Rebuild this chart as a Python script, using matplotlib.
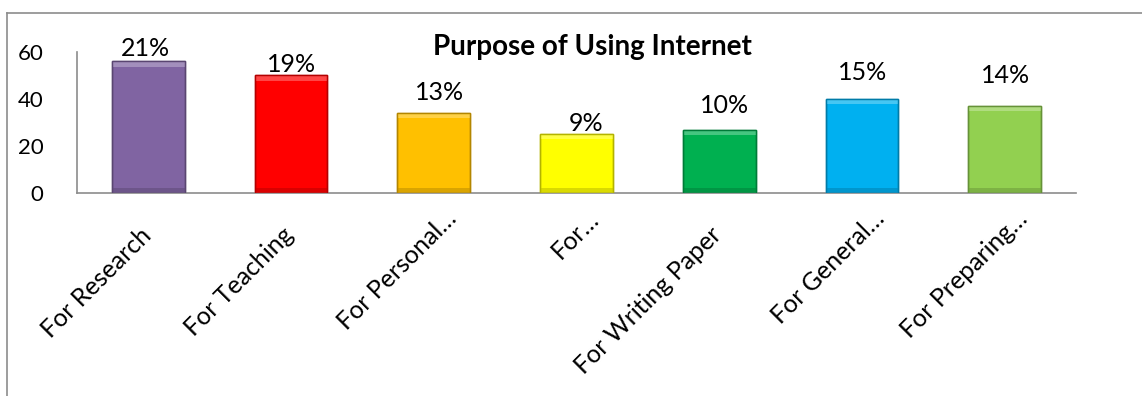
import matplotlib
matplotlib.use("Agg")
import matplotlib.pyplot as plt
import matplotlib.colors as mcolors
import matplotlib.transforms as mtransforms
from matplotlib.lines import Line2D

categories = [
    "For Research",
    "For Teaching",
    "For Personal…",
    "For…",
    "For Writing Paper",
    "For General…",
    "For Preparing…",
]
counts = [56, 50, 34, 25, 27, 40, 37]
percent_labels = ["21%", "19%", "13%", "9%", "10%", "15%", "14%"]
bar_colors = ["#8064A2", "#FF0000", "#FFC000", "#FFFF00", "#00B050", "#00B0F0", "#92D050"]

# where the original put each value label relative to its bar top (points)
label_lift = [4, 2.5, 9.5, 2, 12, 13.5, 16.5]
label_shift = [-1.8, 0, 4, 6.8, 4, 0.7, 0.4]

plt.rcParams["font.family"] = ["Lato", "DejaVu Sans"]


def shade(col, k):
    r, g, b = mcolors.to_rgb(col)
    if k < 1:
        return (r * k, g * k, b * k)
    t = k - 1
    return (r + (1 - r) * t, g + (1 - g) * t, b + (1 - b) * t)


fig = plt.figure(figsize=(11.42, 3.96), dpi=100)
ax = fig.add_axes([0.0674, 0.5126, 0.8748, 0.3561])

x = list(range(len(categories)))
edge = [shade(c, 0.7) for c in bar_colors]
bars = ax.bar(x, counts, width=0.51, color=bar_colors, edgecolor=edge, linewidth=1.0, zorder=2)

# fake bevel: light strip on top, darker strip at the bottom
band = 2.2
ax.bar(x, [band] * len(x), bottom=[c - band for c in counts], width=0.51,
       color=[shade(c, 1.35) for c in bar_colors], edgecolor="none", zorder=3, alpha=0.8)
ax.bar(x, [band] * len(x), width=0.51,
       color=[shade(c, 0.82) for c in bar_colors], edgecolor="none", zorder=3, alpha=0.8)
ax.bar(x, counts, width=0.51, color="none", edgecolor=edge, linewidth=1.0, zorder=4)

for b, txt, lift, sh in zip(bars, percent_labels, label_lift, label_shift):
    ax.annotate(
        txt,
        (b.get_x() + b.get_width() / 2, b.get_height()),
        xytext=(sh, lift),
        textcoords="offset points",
        ha="center",
        va="baseline",
        fontsize=18,
    )

ax.set_xlim(-0.5, len(categories) - 0.5)
ax.set_ylim(0, 60)
ax.set_yticks([0, 20, 40, 60])
ax.tick_params(axis="y", length=0, pad=24, labelsize=16)
ax.set_xticks(x)
ax.set_xticklabels([])
ax.tick_params(axis="x", length=0)

# rotated category labels; truncated ones sit further along the text line
for xi, name in zip(x, categories):
    if name.endswith("…"):
        dx, dy = 17.5, -19.5
    else:
        dx, dy = 3.0, -31.5
    off = mtransforms.ScaledTranslation(dx / 72, dy / 72, fig.dpi_scale_trans)
    ax.text(xi, 0, name, transform=ax.get_xaxis_transform() + off,
            rotation=45, rotation_mode="anchor", ha="right", va="baseline",
            fontsize=18)

for side in ["top", "right"]:
    ax.spines[side].set_visible(False)
for side in ["left", "bottom"]:
    ax.spines[side].set_color("#8C8C8C")
    ax.spines[side].set_linewidth(1.2)

fig.text(0.519, 0.881, "Purpose of Using Internet", ha="center", va="center",
         fontsize=20, fontweight="bold")

# outer chart frame
fig.add_artist(Line2D([6.5 / 1142, 6.5 / 1142], [0, 1 - 12.5 / 396], color="#8C8C8C", lw=1.2))
fig.add_artist(Line2D([6.5 / 1142, 1], [1 - 12.5 / 396, 1 - 12.5 / 396], color="#8C8C8C", lw=1.2))

fig.savefig("out.png", dpi=100)
